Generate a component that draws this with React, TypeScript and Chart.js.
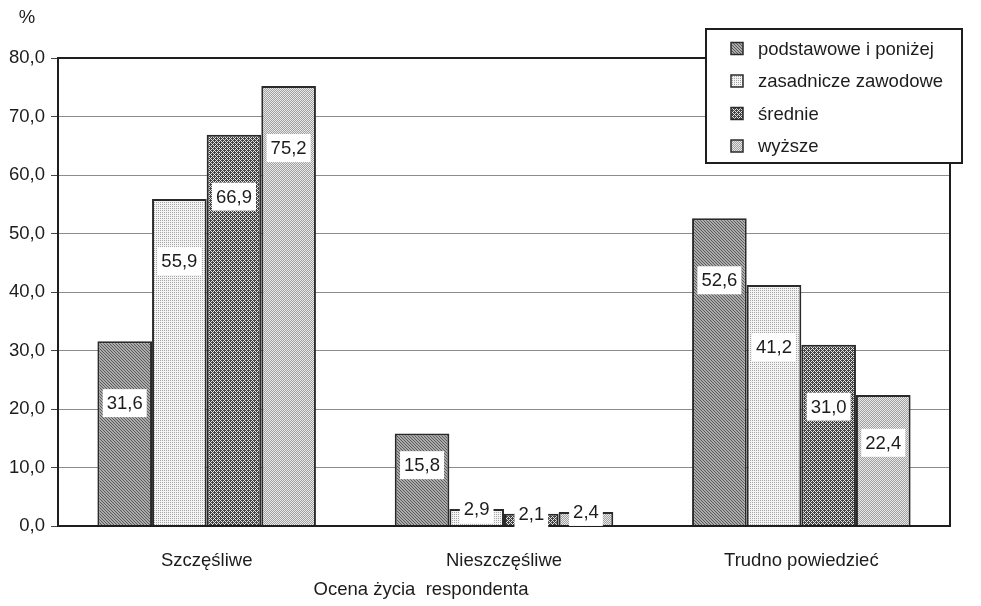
import React, { useEffect, useRef } from "react";
import { Chart, registerables } from "chart.js";

Chart.register(...registerables);

const categories = ["Szczęśliwe", "Nieszczęśliwe", "Trudno powiedzieć"];
const seriesNames = ["podstawowe i poniżej", "zasadnicze zawodowe", "średnie", "wyższe"];
const podstawowe = [31.6, 15.8, 52.6];
const zasadnicze = [55.9, 2.9, 41.2];
const srednie = [66.9, 2.1, 31.0];
const wyzsze = [75.2, 2.4, 22.4];
const yTicks = [0, 10, 20, 30, 40, 50, 60, 70, 80];
const yUnit = "%";
const xTitle = "Ocena życia  respondenta";

const FONT = "'Liberation Sans', Arial, Helvetica, sans-serif";
const TEXT = "#1c1c1c";

function makePattern(size: number, pix: (x: number, y: number) => string) {
  const c = document.createElement("canvas");
  c.width = size;
  c.height = size;
  const g = c.getContext("2d")!;
  for (let y = 0; y < size; y++) {
    for (let x = 0; x < size; x++) {
      g.fillStyle = pix(x, y);
      g.fillRect(x, y, 1, 1);
    }
  }
  return g.createPattern(c, "repeat")!;
}

const fmt = (v: number) => v.toFixed(1).replace(".", ",");

export default function App() {
  const ref = useRef<HTMLCanvasElement | null>(null);

  useEffect(() => {
    document.body.style.margin = "0";
    const canvas = ref.current!;
    const patterns = [
      makePattern(3, (x, y) => ((x - y + 3) % 3 === 0 ? "#5a5a5a" : "#ababab")),
      makePattern(2, (x, y) => (x === 0 && y === 0 ? "#a4a4a4" : "#f4f4f4")),
      makePattern(4, (x, y) => ((x + y) % 4 === 0 || (x - y + 8) % 4 === 0 ? "#e2e2e2" : "#434343")),
      makePattern(2, (x, y) => ((x + y) % 2 === 0 ? "#e8e8e8" : "#a0a0a0")),
    ];
    const seriesData = [podstawowe, zasadnicze, srednie, wyzsze];

    const decor = {
      id: "decor",
      afterDatasetsDraw(chart: any) {
        const { ctx, chartArea: a } = chart;
        ctx.save();
        // frame
        ctx.strokeStyle = "#1e1e1e";
        ctx.lineWidth = 2;
        ctx.strokeRect(a.left, a.top, a.right - a.left, a.bottom - a.top);
        // value labels
        ctx.font = `18.5px ${FONT}`;
        ctx.textAlign = "center";
        ctx.textBaseline = "middle";
        chart.data.datasets.forEach((ds: any, i: number) => {
          const meta = chart.getDatasetMeta(i);
          meta.data.forEach((bar: any, j: number) => {
            const v = ds.data[j];
            const h = bar.base - bar.y;
            const off = Math.max(0, Math.min(62, 0.42 * h - 7));
            const cy = bar.y + off;
            const t = fmt(v);
            const w = ctx.measureText(t).width + 8;
            ctx.fillStyle = "#ffffff";
            ctx.fillRect(bar.x - w / 2, cy - 14, w, 28);
            ctx.fillStyle = TEXT;
            ctx.fillText(t, bar.x, cy + 1);
          });
        });
        ctx.restore();
      },
      afterDraw(chart: any) {
        const { ctx, chartArea: a } = chart;
        ctx.save();
        // unit
        ctx.font = `18.5px ${FONT}`;
        ctx.fillStyle = TEXT;
        ctx.textAlign = "center";
        ctx.textBaseline = "middle";
        ctx.fillText(yUnit, 27, 18);
        // x title
        ctx.fillText(xTitle, a.left + (a.right - a.left) * 0.407, 590);
        // legend
        const lx = 706, ly = 29, lw = 256, lh = 134;
        ctx.fillStyle = "#ffffff";
        ctx.fillRect(lx, ly, lw, lh);
        ctx.strokeStyle = "#1e1e1e";
        ctx.lineWidth = 2;
        ctx.strokeRect(lx, ly, lw, lh);
        ctx.textAlign = "left";
        seriesNames.forEach((name, i) => {
          const cy = 48.5 + i * 32.5;
          ctx.fillStyle = patterns[i];
          ctx.fillRect(731, cy - 6, 12, 12);
          ctx.strokeStyle = "#2a2a2a";
          ctx.lineWidth = 1.5;
          ctx.strokeRect(731, cy - 6, 12, 12);
          ctx.fillStyle = TEXT;
          ctx.fillText(name, 758, cy + 1);
        });
        ctx.restore();
      },
    };

    const chart = new Chart(canvas, {
      type: "bar",
      data: {
        labels: categories,
        datasets: seriesNames.map((name, i) => ({
          label: name,
          data: seriesData[i],
          backgroundColor: patterns[i] as any,
          borderColor: "#2a2a2a",
          borderWidth: 2,
          barPercentage: 1,
          categoryPercentage: 0.735,
        })),
      },
      options: {
        responsive: false,
        animation: false,
        layout: { padding: { top: 58, right: 31, left: 0, bottom: 0 } },
        plugins: {
          legend: { display: false },
          tooltip: { enabled: false },
        },
        scales: {
          x: {
            grid: { display: false },
            border: { display: false },
            ticks: { color: TEXT, font: { family: FONT, size: 18.5 }, padding: 16 },
            afterFit: (s: any) => {
              s.height = 80;
            },
          },
          y: {
            min: yTicks[0],
            max: yTicks[yTicks.length - 1],
            afterBuildTicks: (s: any) => {
              s.ticks = yTicks.map((v) => ({ value: v }));
            },
            grid: { color: "#8c8c8c", lineWidth: 1, tickLength: 7, tickColor: "#444" },
            border: { display: false },
            ticks: {
              color: TEXT,
              font: { family: FONT, size: 18.5 },
              padding: 6,
              callback: (v: any) => fmt(Number(v)),
            },
            afterFit: (s: any) => {
              s.width = 58;
            },
          },
        },
      },
      plugins: [decor],
    });
    return () => chart.destroy();
  }, []);

  return (
    <div style={{ width: 981, height: 606, background: "#fff" }}>
      <canvas ref={ref} width={981} height={606} style={{ display: "block" }} />
    </div>
  );
}
